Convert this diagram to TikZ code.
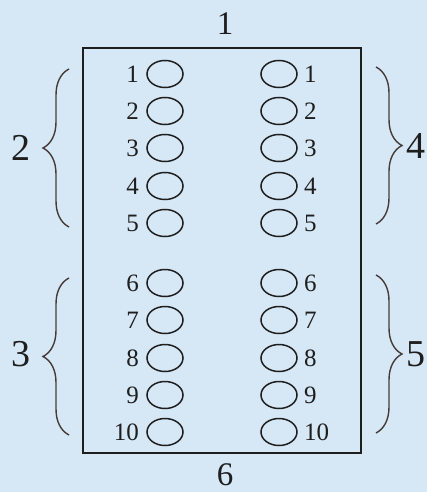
\documentclass[tikz,border=0pt]{standalone}
\usepackage{fontspec}
\setmainfont{Liberation Serif}
\usetikzlibrary{shapes.geometric,decorations.pathreplacing}
\definecolor{bgblue}{RGB}{214,231,245}
\definecolor{ink}{RGB}{30,30,30}
\definecolor{braceink}{RGB}{70,60,55}
\begin{document}
\begin{tikzpicture}[x=1pt,y=-1pt,
  hole/.style={draw=ink,ellipse,line width=1.5pt,minimum width=36pt,minimum height=27pt,inner sep=0pt},
  num/.style={font=\fontsize{25}{25}\selectfont,text=ink,inner sep=0pt},
  biglab/.style={font=\fontsize{38}{38}\selectfont,text=ink,inner sep=0pt},
  endlab/.style={font=\fontsize{33}{33}\selectfont,text=ink,inner sep=0pt},
  grpbrace/.style={draw=braceink,line width=1.4pt,decorate,decoration={brace,amplitude=26pt}}]
\fill[bgblue] (0,0) rectangle (427,492);
\useasboundingbox (0,0) rectangle (427,492);
\node[draw=ink,line width=1.6pt,minimum width=278pt,minimum height=405pt,inner sep=0pt] (box) at (222,250.5) {};
\node[endlab] (top) at (225,24) {1};
\node[endlab] (bot) at (225,475) {6};
\foreach \i/\y in {1/74,2/111,3/148,4/186,5/223,6/283,7/320,8/358,9/395,10/432}{
  \node[hole] (L\i) at (165,\y) {};
  \node[hole] (R\i) at (279,\y) {};
  \node[num,anchor=east] (LN\i) at (139,\y) {\i};
  \node[num,anchor=west] (RN\i) at (304,\y) {\i};
}
\coordinate (b2a) at (69,227); \coordinate (b2b) at (69,69);
\coordinate (b3a) at (69,435); \coordinate (b3b) at (69,278);
\coordinate (b4a) at (376,67); \coordinate (b4b) at (376,224);
\coordinate (b5a) at (376,275); \coordinate (b5b) at (376,433);
\draw[grpbrace] (b2a) -- (b2b);
\draw[grpbrace] (b3a) -- (b3b);
\draw[grpbrace] (b4a) -- (b4b);
\draw[grpbrace] (b5a) -- (b5b);
\node[biglab] (g2) at (21,148) {2};
\node[biglab] (g3) at (21,354) {3};
\node[biglab] (g4) at (416,146) {4};
\node[biglab] (g5) at (416,354) {5};
\end{tikzpicture}
\end{document}
